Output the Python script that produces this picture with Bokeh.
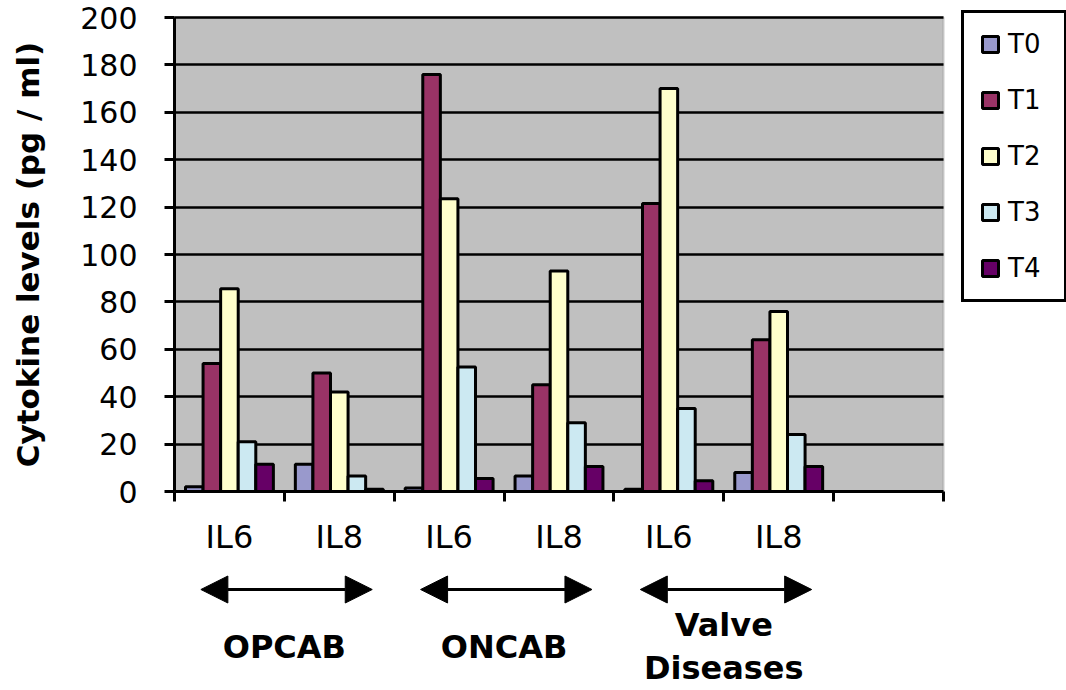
import math
from bokeh.plotting import figure
from bokeh.models import (ColumnDataSource, Range1d, FixedTicker, LinearAxis, Grid,
                          BoxAnnotation, Legend, LegendItem, Arrow, NormalHead)
from bokeh.transform import dodge
from bokeh.core.properties import value
from bokeh.embed import file_html
from bokeh.resources import INLINE

# ---------------- data ----------------
categories = ["IL6", "IL8", "IL6", "IL8", "IL6", "IL8"]
n_slots = 7  # six categories plus one empty slot at the end
groups = ["OPCAB", "ONCAB", "Valve\nDiseases"]
series = ["T0", "T1", "T2", "T3", "T4"]
t0 = [2, 11.5, 1.5, 6.5, 1, 8]
t1 = [54, 50, 176, 45, 121.5, 64]
t2 = [85.5, 42, 123.5, 93, 170, 76]
t3 = [21, 6.5, 52.5, 29, 35, 24]
t4 = [11.5, 1, 5.5, 10.5, 4.5, 10.5]
y_ticks = [0, 20, 40, 60, 80, 100, 120, 140, 160, 180, 200]
y_label = "Cytokine levels (pg / ml)"

colors = ["#9999CC", "#993366", "#FFFFCC", "#CCE9F2", "#660066"]

# ---------------- layout (pixels of the figure) ----------------
W, H = 1066, 690
plot_left_px, plot_right_px = 174, 943
zero_px, top_px = 491, 17
px_per_slot = (plot_right_px - plot_left_px) / n_slots
px_per_unit = (zero_px - top_px) / 200.0
x_min = -plot_left_px / px_per_slot
x_max = n_slots + (W - plot_right_px) / px_per_slot
y_max = 200 + top_px / px_per_unit
y_min = -(H - zero_px) / px_per_unit

src = ColumnDataSource(dict(
    x=[i + 0.5 for i in range(len(categories))],
    T0=t0, T1=t1, T2=t2, T3=t3, T4=t4,
))

p = figure(width=W, height=H, x_range=Range1d(x_min, x_max), y_range=Range1d(y_min, y_max),
           x_axis_type=None, y_axis_type=None,
           min_border_left=0, min_border_right=0, min_border_top=0, min_border_bottom=0,
           output_backend="svg", toolbar_location=None)
p.outline_line_color = None
p.background_fill_color = "white"
p.border_fill_color = "white"

# gray plot area
box = BoxAnnotation(left=0, right=n_slots, bottom=0, top=200,
                    fill_color="#C0C0C0", fill_alpha=1.0,
                    line_color="#8A8A8A", line_width=2.5, level="image")
p.add_layout(box)

# horizontal grid lines
grid = Grid(dimension=1, ticker=FixedTicker(ticks=y_ticks[1:]),
            cross_bounds=(0, n_slots),
            grid_line_color="black", grid_line_width=2.5)
p.add_layout(grid)

# bars
bw = 0.16
offsets = [-2 * bw, -bw, 0, bw, 2 * bw]
renderers = []
for s, off, c in zip(series, offsets, colors):
    r = p.vbar(x=dodge("x", off), top=s, bottom=0, width=bw, source=src,
               fill_color=c, line_color="black", line_width=3)
    renderers.append(r)

# y axis at x = 0
yaxis = LinearAxis(fixed_location=0, ticker=FixedTicker(ticks=y_ticks), bounds=(0, 200),
                   major_label_text_font="DejaVu Sans", major_label_text_font_size="30px",
                   major_label_text_color="black", major_label_standoff=27,
                   major_tick_in=0, major_tick_out=10, major_tick_line_width=3,
                   major_tick_line_color="black", minor_tick_line_color=None,
                   axis_line_width=3, axis_line_color="black")
p.add_layout(yaxis, "left")

# x axis at y = 0
xaxis = LinearAxis(fixed_location=0, bounds=(0, n_slots),
                   ticker=FixedTicker(ticks=[i + 0.5 for i in range(len(categories))],
                                      minor_ticks=list(range(n_slots + 1))),
                   major_label_overrides={i + 0.5: c for i, c in enumerate(categories)},
                   major_label_text_font="DejaVu Sans", major_label_text_font_size="32px",
                   major_label_text_color="black", major_label_standoff=16,
                   major_tick_line_color=None, major_tick_in=0, major_tick_out=0,
                   minor_tick_in=0, minor_tick_out=10, minor_tick_line_width=3,
                   minor_tick_line_color="black",
                   axis_line_width=3, axis_line_color="black")
p.add_layout(xaxis, "below")

# y axis title
p.text(x=[x_min + 27.5 / px_per_slot], y=[100], text=[y_label], angle=math.pi / 2,
       text_font=value("DejaVu Sans"), text_font_style="bold", text_font_size="31px",
       text_color="black", text_align="center", text_baseline="middle")

# group arrows and names
arrow_y = -(589 - zero_px) / px_per_unit
name_y = -(646 - zero_px) / px_per_unit
asrc = ColumnDataSource(dict(
    xs=[2 * g + 0.5 - 0.26 for g in range(len(groups))],
    xe=[2 * g + 1.5 + 0.30 for g in range(len(groups))],
    ys=[arrow_y] * len(groups),
    ye=[arrow_y] * len(groups),
))
arrow = Arrow(x_start="xs", y_start="ys", x_end="xe", y_end="ye", source=asrc,
              line_color="black", line_width=3,
              start=NormalHead(size=27, fill_color="black", line_color="black"),
              end=NormalHead(size=27, fill_color="black", line_color="black"))
p.add_layout(arrow)

p.text(x=[2 * g + 1 for g in range(len(groups))], y=[name_y] * len(groups), text=groups,
       text_font=value("DejaVu Sans"), text_font_style="bold", text_font_size="32px",
       text_color="black", text_align="center", text_baseline="middle",
       text_line_height=1.13)

# legend
legend = Legend(items=[LegendItem(label=s, renderers=[r]) for s, r in zip(series, renderers)],
                location=(961, 388), orientation="vertical",
                border_line_color="black", border_line_width=3, border_line_alpha=1.0,
                background_fill_color="white", background_fill_alpha=1.0,
                padding=16, spacing=26, margin=0,
                glyph_width=20, glyph_height=20, label_standoff=8, label_width=40,
                label_text_font="DejaVu Sans", label_text_font_size="26px",
                label_text_color="black")
p.add_layout(legend)

open("out.html", "w").write(file_html(p, INLINE))
